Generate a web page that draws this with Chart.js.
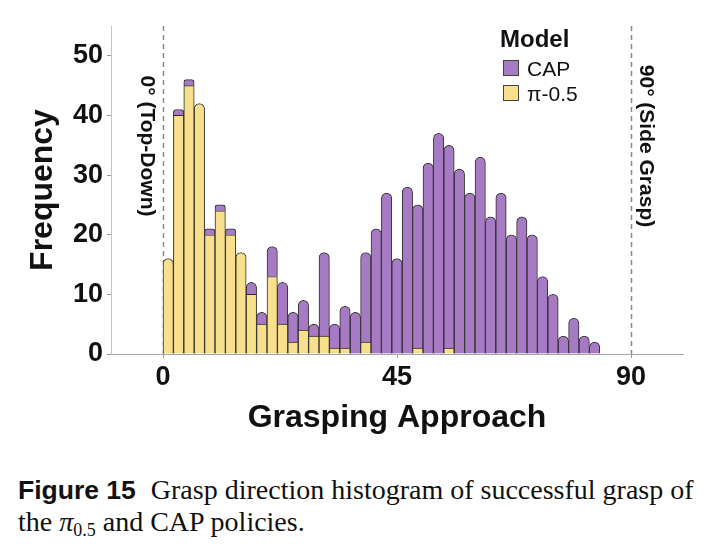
<!DOCTYPE html>
<html>
<head>
<meta charset="utf-8">
<script src="https://cdn.jsdelivr.net/npm/chart.js@4"></script>
<style>
  body { margin: 0; background: #fff; width: 708px; height: 555px; overflow: hidden; position: relative; }
  #wrap { position: absolute; left: 0; top: 0; width: 708px; height: 455px; }
  #caption { position: absolute; left: 18px; top: 474px; width: 690px; white-space: nowrap; font-family: "Liberation Serif", serif; font-size: 28px; line-height: 31px; color: #111; }
  #caption b { font-family: "Liberation Sans", Arial, sans-serif; font-size: 26.5px; margin-right: 8px; }
  #caption sub { font-size: 18px; font-style: normal; vertical-align: -5px; line-height: 0; }
</style>
</head>
<body>
<div id="wrap"><canvas id="hist" width="708" height="455"></canvas></div>
<div id="caption"><b>Figure 15</b> Grasp direction histogram of successful grasp of<br>the <i>π</i><sub>0.5</sub> and CAP policies.</div>
<script>
    // bin start (degrees), 2 degree bins
    const binStarts = [0, 2, 4, 6, 8, 10, 12, 14, 16, 18, 20, 22, 24, 26, 28, 30, 32, 34, 36, 38, 40,
      42, 44, 46, 48, 50, 52, 54, 56, 58, 60, 62, 64, 66, 68, 70, 72, 74, 76, 78, 80, 82];
    const piCounts = [16, 40, 45, 42, 20, 24, 20, 17, 10, 5, 13, 5, 2, 4, 3, 3, 1, 1, 0, 2, 0,
      0, 0, 0, 1, 0, 0, 1, 0, 0, 0, 0, 0, 0, 0, 0, 0, 0, 0, 0, 0, 0];
    const capCounts = [0, 1, 1, 0, 1, 1, 1, 0, 2, 2, 5, 7, 5, 5, 2, 14, 4, 7, 7, 15, 21,
      27, 16, 28, 24, 32, 37, 34, 31, 27, 33, 23, 27, 20, 23, 20, 13, 10, 3, 6, 3, 2];
    const binWidth = 2;
    const xTicks = [0, 45, 90];
    const yTicks = [0, 10, 20, 30, 40, 50];
    const refLines = [0, 90];
    const refLabels = ['0° (Top-Down)', '90° (Side Grasp)'];

    const capColor = '#a67bc4';
    const piColor = '#f8df8c';
    const edge = '#2e2e2e';
    const sans = '"Liberation Sans", Arial, sans-serif';

    function toPoints(counts) {
      return counts.map((c, i) => ({ x: binStarts[i] + binWidth / 2, y: c || null }));
    }

    function topRadius(isTop) {
      return isTop ? { topLeft: 6, topRight: 6, bottomLeft: 0, bottomRight: 0 } : 0;
    }

    const annotate = {
      id: 'annotate',
      beforeDatasetsDraw(chart) {
        const { ctx, chartArea, scales: { x } } = chart;
        ctx.save();
        ctx.strokeStyle = '#8a8a8a';
        ctx.lineWidth = 1.5;
        ctx.setLineDash([5, 4]);
        refLines.forEach(v => {
          const px = Math.round(x.getPixelForValue(v)) + 0.5;
          ctx.beginPath();
          ctx.moveTo(px, chartArea.top);
          ctx.lineTo(px, chartArea.bottom);
          ctx.stroke();
        });
        ctx.restore();
      },
      afterDatasetsDraw(chart) {
        const { ctx, chartArea, scales: { x } } = chart;
        ctx.save();
        ctx.fillStyle = '#111';
        ctx.font = 'bold 21px ' + sans;
        ctx.textAlign = 'center';
        ctx.textBaseline = 'middle';
        refLines.forEach((v, i) => {
          const px = x.getPixelForValue(v) + (i === 0 ? -16 : 15);
          ctx.save();
          ctx.translate(px, chartArea.top + 120);
          ctx.rotate(Math.PI / 2);
          ctx.fillText(refLabels[i], 0, 0);
          ctx.restore();
        });

        // legend
        ctx.textAlign = 'left';
        ctx.textBaseline = 'alphabetic';
        ctx.font = 'bold 24px ' + sans;
        ctx.fillText('Model', 500, 47);
        ctx.font = '21px ' + sans;
        const items = [['CAP', capColor, 60], ['π-0.5', piColor, 85]];
        items.forEach(([label, color, top]) => {
          ctx.fillStyle = color;
          ctx.fillRect(503, top, 16, 16);
          ctx.strokeStyle = '#444';
          ctx.lineWidth = 1;
          ctx.strokeRect(503.5, top + 0.5, 15, 15);
          ctx.fillStyle = '#111';
          ctx.fillText(label, 527, top + 16);
        });
        ctx.restore();
      }
    };

    new Chart(document.getElementById('hist'), {
      type: 'bar',
      data: {
        datasets: [
          {
            label: 'π-0.5',
            data: toPoints(piCounts),
            stack: 'all',
            backgroundColor: piColor,
            borderColor: edge,
            borderWidth: 1,
            borderRadius: c => topRadius(!capCounts[c.dataIndex])
          },
          {
            label: 'CAP',
            data: toPoints(capCounts),
            stack: 'all',
            backgroundColor: capColor,
            borderColor: edge,
            borderWidth: 1,
            borderRadius: 6
          }
        ]
      },
      options: {
        responsive: false,
        animation: false,
        barPercentage: 1,
        categoryPercentage: 1,
        layout: { padding: { left: 0, top: 26, right: 25, bottom: 0 } },
        plugins: { legend: { display: false }, tooltip: { enabled: false } },
        scales: {
          x: {
            type: 'linear',
            min: -10,
            max: 100,
            offset: false,
            afterFit: s => { s.height = 101; },
            afterBuildTicks: s => { s.ticks = xTicks.map(v => ({ value: v })); },
            grid: { offset: false, drawOnChartArea: false, tickLength: 4, color: '#999' },
            border: { color: '#a8a8a8' },
            ticks: { padding: 3, color: '#111', font: { family: sans, size: 27, weight: 'bold' } },
            title: {
              display: true, text: 'Grasping Approach', color: '#111',
              padding: { top: 0, bottom: 18 },
              font: { family: sans, size: 32, weight: 'bold' }
            }
          },
          y: {
            stacked: true,
            min: 0,
            max: 55,
            afterFit: s => { s.width = 111; },
            afterBuildTicks: s => { s.ticks = yTicks.map(v => ({ value: v })); },
            grid: { drawOnChartArea: false, tickLength: 4, color: '#999' },
            border: { color: '#c4c4c4' },
            ticks: { padding: 4, color: '#111', font: { family: sans, size: 27, weight: 'bold' } },
            title: {
              display: true, text: 'Frequency', color: '#111',
              padding: { top: 24, bottom: 0 },
              font: { family: sans, size: 32, weight: 'bold' }
            }
          }
        }
      },
      plugins: [annotate]
    });
</script>
</body>
</html>
